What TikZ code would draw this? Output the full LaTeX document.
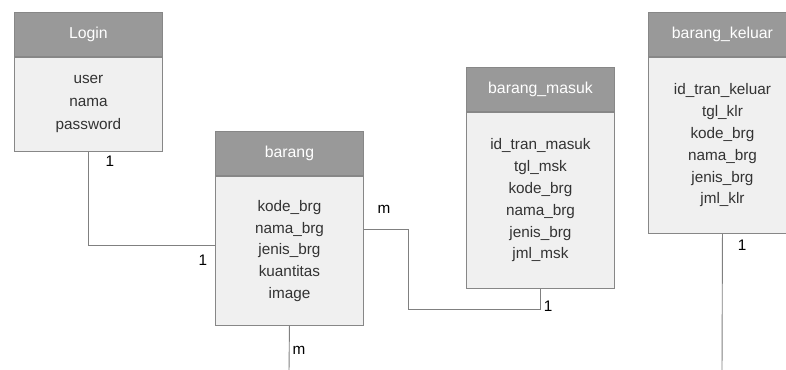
\documentclass[tikz,border=0pt]{standalone}
\usepackage{fontspec}
\setmainfont{Liberation Sans}
\begin{document}
\begin{tikzpicture}[x=1pt,y=-1pt,
  hdr/.style={draw=black!47, fill=black!40, text=white, line width=0.9pt,
    minimum width=148pt, minimum height=44pt, inner sep=0pt, anchor=north west,
    font=\fontsize{15.8}{19}\selectfont},
  ent/.style={draw=black!47, fill=black!6, text=black!80, line width=0.9pt,
    minimum width=148pt, inner sep=0pt, anchor=north, align=center,
    font=\fontsize{15.3}{21.8}\selectfont},
  conn/.style={draw=black!50, line width=0.9pt},
  card/.style={text=black, inner sep=0pt, font=\fontsize{15.3}{18}\selectfont}]
\useasboundingbox[fill=white] (0,0) rectangle (786,369);

% Login
\node[hdr] (loginH) at (14,12) {Login};
\node[ent, minimum height=94pt, font=\fontsize{15.3}{23}\selectfont] (login) at (loginH.south) {user\\nama\\password};

% barang
\node[hdr] (barangH) at (215,131) {barang};
\node[ent, minimum height=149pt] (barang) at (barangH.south) {kode\_brg\\nama\_brg\\jenis\_brg\\kuantitas\\image};

% barang_masuk
\node[hdr] (masukH) at (466,67) {barang\_masuk};
\node[ent, minimum height=176pt] (masuk) at (masukH.south) {id\_tran\_masuk\\tgl\_msk\\kode\_brg\\nama\_brg\\jenis\_brg\\jml\_msk};

% barang_keluar
\node[hdr] (keluarH) at (648,12) {barang\_keluar};
\node[ent, minimum height=176pt] (keluar) at (keluarH.south) {id\_tran\_keluar\\tgl\_klr\\kode\_brg\\nama\_brg\\jenis\_brg\\jml\_klr};

% free ends
\coordinate (bEnd) at (289,372);
\coordinate (kEnd) at (722,372);

% connectors
\draw[conn] (login.south) |- ([yshift=5.5pt]barang.west);
\draw[conn] ([yshift=21.5pt]barang.east) -| (408,309) -| (masuk.south);
\draw[conn] (barang.south) -- (bEnd);
\draw[conn] (keluar.south) -- (kEnd);

% cardinalities
\node[card] (c1) at (110,161) {1};
\node[card] (c2) at (203,260) {1};
\node[card] (c3) at (384,209) {m};
\node[card] (c4) at (548,306) {1};
\node[card] (c5) at (299,350) {m};
\node[card] (c6) at (742,245) {1};
\end{tikzpicture}
\end{document}
